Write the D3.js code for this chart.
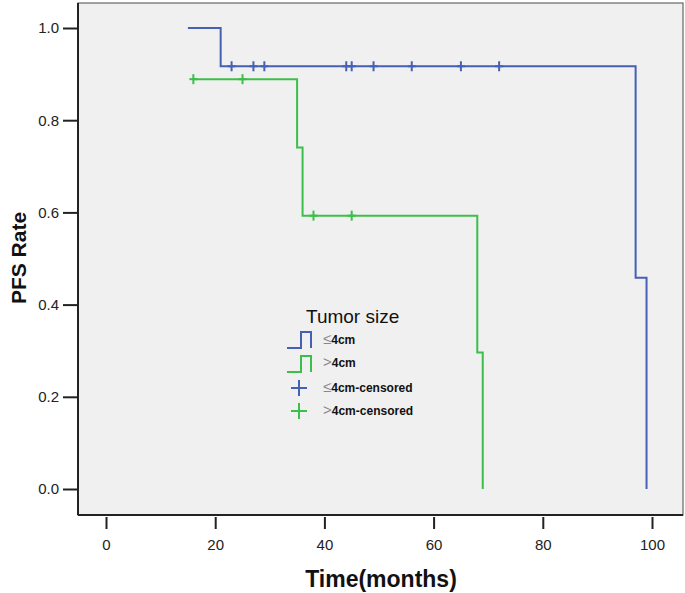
<!DOCTYPE html>
<html><head><meta charset="utf-8">
<script src="https://cdn.jsdelivr.net/npm/d3@7"></script>
<style>body{margin:0;background:#fff;}svg{display:block;}</style>
</head><body>
<script>
// Data
const groupNames = ["≤4cm", ">4cm"];
const smallTimes = [15, 21, 97, 99];
const smallSurv = [1.0, 0.917, 0.458, 0.0];
const smallCensor = [23, 27, 29, 44, 45, 49, 56, 65, 72];
const smallCensorSurv = 0.917;
const largeTimes = [16, 35, 36, 68, 69];
const largeSurv = [0.889, 0.741, 0.593, 0.296, 0.0];
const largeCensor = [16, 25, 38, 45];
const largeCensorSurv = [0.889, 0.889, 0.593, 0.593];
const xTicks = [0, 20, 40, 60, 80, 100];
const yTicks = [0.0, 0.2, 0.4, 0.6, 0.8, 1.0];

const W = 685, H = 593;
const blue = "#4560b4", green = "#3cbf4a";
const svg = d3.select("body").append("svg").attr("width", W).attr("height", H);

const x = d3.scaleLinear().domain([0, 100]).range([106, 652]);
const y = d3.scaleLinear().domain([0, 1]).range([489, 28]);
const frame = {l: 78, t: 3, r: 683, b: 515};

svg.append("rect").attr("x", frame.l).attr("y", frame.t)
  .attr("width", frame.r - frame.l).attr("height", frame.b - frame.t)
  .attr("fill", "#f0f0f0").attr("stroke", "#666").attr("stroke-width", 1.2);
svg.append("line").attr("x1", frame.l).attr("x2", frame.l).attr("y1", frame.t).attr("y2", frame.b)
  .attr("stroke", "#222").attr("stroke-width", 2);
svg.append("line").attr("x1", frame.l).attr("x2", frame.r).attr("y1", frame.b).attr("y2", frame.b)
  .attr("stroke", "#222").attr("stroke-width", 2);

// axes
const yAxis = d3.axisLeft(y).tickValues(yTicks).tickFormat(d3.format(".1f")).tickSize(15).tickPadding(4);
const gy = svg.append("g").attr("transform", `translate(${frame.l},0)`).call(yAxis);
gy.select(".domain").remove();
gy.selectAll(".tick line").attr("stroke", "#222").attr("stroke-width", 2);
gy.selectAll(".tick text").attr("font-family", "Arial, Liberation Sans, sans-serif").attr("font-size", 15).attr("fill", "#222");

const xAxis = d3.axisBottom(x).tickValues(xTicks).tickFormat(d3.format("d")).tickSize(12).tickPadding(10);
const gx = svg.append("g").attr("transform", `translate(0,${frame.b + 2})`).call(xAxis);
gx.select(".domain").remove();
gx.selectAll(".tick line").attr("stroke", "#222").attr("stroke-width", 2);
gx.selectAll(".tick text").attr("font-family", "Arial, Liberation Sans, sans-serif").attr("font-size", 15).attr("fill", "#222");

// titles
svg.append("text").attr("x", 381).attr("y", 587).attr("text-anchor", "middle")
  .attr("font-family", "Arial, Liberation Sans, sans-serif").attr("font-weight", "bold").attr("font-size", 23)
  .attr("fill", "#111").text("Time(months)");
svg.append("text").attr("transform", "translate(26,258) rotate(-90)").attr("text-anchor", "middle")
  .attr("font-family", "Arial, Liberation Sans, sans-serif").attr("font-weight", "bold").attr("font-size", 21)
  .attr("fill", "#111").text("PFS Rate");

// curves
const line = d3.line().x(d => x(d[0])).y(d => y(d[1])).curve(d3.curveStepAfter);
const smallPts = smallTimes.map((t, i) => [t, smallSurv[i]]);
const largePts = largeTimes.map((t, i) => [t, largeSurv[i]]);
svg.append("path").datum(largePts).attr("d", line).attr("fill", "none").attr("stroke", green).attr("stroke-width", 2);
svg.append("path").datum(smallPts).attr("d", line).attr("fill", "none").attr("stroke", blue).attr("stroke-width", 2);

function plus(g, cx, cy, hw, hh, col, sw) {
  g.append("line").attr("x1", cx - hw).attr("x2", cx + hw).attr("y1", cy).attr("y2", cy).attr("stroke", col).attr("stroke-width", sw);
  g.append("line").attr("x1", cx).attr("x2", cx).attr("y1", cy - hh).attr("y2", cy + hh).attr("stroke", col).attr("stroke-width", sw);
}
const cg = svg.append("g");
smallCensor.forEach(t => plus(cg, x(t), y(smallCensorSurv), 4, 5, blue, 2));
largeCensor.forEach((t, i) => plus(cg, x(t), y(largeCensorSurv[i]), 4, 5, green, 2));

// legend
const lg = svg.append("g");
lg.append("text").attr("x", 306).attr("y", 323).attr("font-family", "Arial, Liberation Sans, sans-serif")
  .attr("font-size", 19).attr("fill", "#111").text("Tumor size");
function stepSym(top, col) {
  const b = top + 16;
  lg.append("path").attr("d", `M287,${b}H301V${top}H311V${b}`).attr("fill", "none").attr("stroke", col).attr("stroke-width", 2);
}
stepSym(332, blue);
stepSym(356, green);
plus(lg, 299, 388, 8, 8, blue, 2);
plus(lg, 299, 411, 8, 8, green, 2);
const labels = [[groupNames[0], ""], [groupNames[1], ""], [groupNames[0], "-censored"], [groupNames[1], "-censored"]];
const baselines = [344, 367, 392, 415];
labels.forEach((l, i) => {
  const t = lg.append("text").attr("x", 323).attr("y", baselines[i]).attr("font-family", "Arial, Liberation Sans, sans-serif")
    .attr("font-size", 12).attr("fill", "#111");
  t.append("tspan").attr("fill", "#888").attr("font-weight", "normal").attr("font-size", 15).text(l[0].charAt(0));
  t.append("tspan").attr("font-weight", "bold").text(l[0].slice(1) + l[1]);
});
</script>
</body></html>
